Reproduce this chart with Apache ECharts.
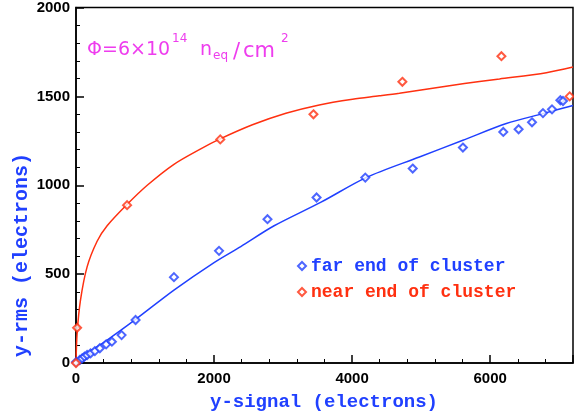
<!DOCTYPE html>
<html>
<head>
<meta charset="utf-8">
<script src="https://cdn.jsdelivr.net/npm/echarts@6/dist/echarts.min.js"></script>
<style>html,body{margin:0;padding:0;background:#fff;}#c{width:574px;height:420px;}</style>
</head>
<body>
<div id="c"></div>
<script>
// far end of cluster (blue) measured points [signal, rms]
const farX = [0, 55, 89, 123, 161, 210, 273, 345, 437, 520, 660, 863, 1419, 2072, 2774, 3485, 4191, 4878, 5605, 6190, 6412, 6606, 6765, 6896, 7017, 7055];
const farY = [5, 17, 26, 36, 45, 54, 67, 83, 105, 120, 157, 242, 483, 631, 809, 931, 1043, 1094, 1212, 1300, 1315, 1354, 1406, 1427, 1478, 1474];
// near end of cluster (red) measured points
const nearX = [0, 16, 740, 2090, 3440, 4728, 6163, 7152];
const nearY = [0, 198, 888, 1258, 1399, 1582, 1726, 1500];
// fitted curves
const farFitX = [0, 16, 451, 863, 1419, 2000, 2387, 2870, 3550, 4202, 4975, 5605, 6234, 6765, 7200];
const farFitY = [0, 17, 129, 245, 410, 565, 655, 772, 905, 1043, 1159, 1253, 1347, 1403, 1449];
const nearFitX = [0, 16, 65, 161, 306, 451, 742, 1032, 1419, 1807, 2073, 2556, 3041, 3524, 4007, 4394, 4685, 5410, 5846, 6135, 6814, 7200];
const nearFitY = [0, 167, 354, 541, 685, 772, 893, 1000, 1118, 1205, 1258, 1340, 1405, 1452, 1484, 1503, 1518, 1560, 1584, 1598, 1633, 1665];
const xTicks = [0, 2000, 4000, 6000];
const yTicks = [0, 500, 1000, 1500, 2000];

const BLUE = '#2040ff', RED = '#ff3010', MAG = '#ee3dee';
const zip = (a, b) => a.map((v, i) => [v, b[i]]);

const chart = echarts.init(document.getElementById('c'), null, {renderer: 'canvas'});
const axisCommon = {
  axisLine: {show: true, onZero: false, lineStyle: {color: '#000', width: 1.5}},
  axisTick: {show: true, inside: true, length: 8, lineStyle: {color: '#000', width: 1.5}},
  minorTick: {show: true, splitNumber: 5, length: 4, lineStyle: {color: '#000', width: 1}},
  splitLine: {show: false},
  minorSplitLine: {show: false},
  axisLabel: {color: '#000', fontFamily: 'Liberation Sans', fontWeight: 'bold', fontSize: 15, formatter: v => String(v)}
};
chart.setOption({
  animation: false,
  backgroundColor: '#fff',
  grid: {left: 76, right: 1, top: 7, bottom: 57, show: true, borderColor: '#000', borderWidth: 1.5, backgroundColor: 'transparent'},
  xAxis: Object.assign({type: 'value', min: 0, max: 7200, interval: 2000}, axisCommon, {
    axisLabel: Object.assign({}, axisCommon.axisLabel, {margin: 8, showMaxLabel: false})
  }),
  yAxis: Object.assign({type: 'value', min: 0, max: 2000, interval: 500}, axisCommon, {
    axisLabel: Object.assign({}, axisCommon.axisLabel, {margin: 6})
  }),
  legend: {
    orient: 'vertical', left: 292, top: 252, itemWidth: 8, itemHeight: 8, itemGap: 8,
    icon: 'emptyDiamond',
    data: [
      {name: 'far end of cluster', textStyle: {color: BLUE}},
      {name: 'near end of cluster', textStyle: {color: RED}}
    ],
    textStyle: {fontFamily: 'Liberation Mono', fontWeight: 'bold', fontSize: 18, padding: [0, 0, 0, 0]}
  },
  series: [
    {type: 'line', data: zip(farFitX, farFitY), showSymbol: false, smooth: 0.3,
     lineStyle: {color: BLUE, width: 1.5}, itemStyle: {color: BLUE}, silent: true, z: 2},
    {type: 'line', data: zip(nearFitX, nearFitY), showSymbol: false, smooth: 0.3,
     lineStyle: {color: RED, width: 1.5}, itemStyle: {color: RED}, silent: true, z: 2},
    {name: 'far end of cluster', type: 'scatter', data: zip(farX, farY), symbol: 'emptyDiamond', symbolSize: 8,
     itemStyle: {color: BLUE, borderColor: BLUE, borderWidth: 1.6}, z: 3},
    {name: 'near end of cluster', type: 'scatter', data: zip(nearX, nearY), symbol: 'emptyDiamond', symbolSize: 8,
     itemStyle: {color: RED, borderColor: RED, borderWidth: 1.6}, z: 3}
  ],
  graphic: [
    {type: 'text', x: 324, y: 402, style: {text: 'y-signal (electrons)', fill: BLUE, font: 'bold 19px "Liberation Mono"', textAlign: 'center', textVerticalAlign: 'middle'}},
    {type: 'text', x: 22, y: 255, rotation: Math.PI / 2, style: {text: 'y-rms (electrons)', fill: BLUE, font: 'bold 20px "Liberation Mono"', textAlign: 'center', textVerticalAlign: 'middle'}},
    {type: 'text', x: 87, y: 41, style: {text: 'Φ=6×10', fill: MAG, font: '19px "DejaVu Sans"', textVerticalAlign: 'alphabetic'}},
    {type: 'text', x: 172, y: 33, style: {text: '14', fill: MAG, font: '12px "DejaVu Sans"', textVerticalAlign: 'alphabetic'}},
    {type: 'text', x: 200, y: 41, style: {text: 'n', fill: MAG, font: '19px "DejaVu Sans"', textVerticalAlign: 'alphabetic'}},
    {type: 'text', x: 213, y: 50, style: {text: 'eq', fill: MAG, font: '12px "DejaVu Sans"', textVerticalAlign: 'alphabetic'}},
    {type: 'text', x: 233, y: 42, style: {text: '/', fill: MAG, font: '21px "DejaVu Sans"', textVerticalAlign: 'alphabetic'}},
    {type: 'text', x: 243, y: 41, style: {text: 'cm', fill: MAG, font: '21px "DejaVu Sans"', textVerticalAlign: 'alphabetic'}},
    {type: 'text', x: 281, y: 33, style: {text: '2', fill: MAG, font: '12px "DejaVu Sans"', textVerticalAlign: 'alphabetic'}}
  ]
});
</script>
</body>
</html>
